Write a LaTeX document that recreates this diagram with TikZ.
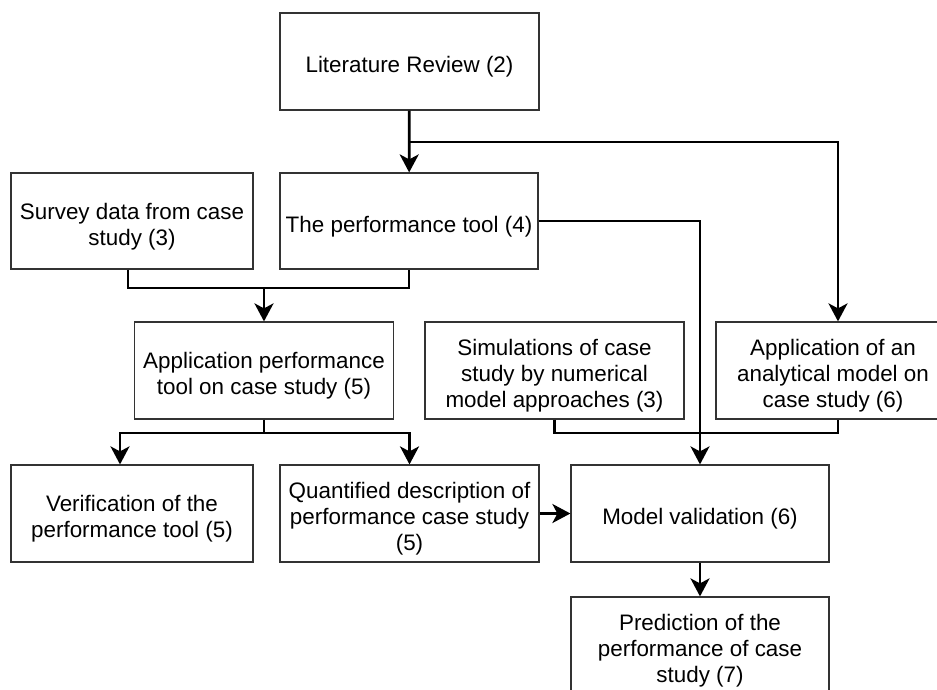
\documentclass[tikz,border=0pt]{standalone}
\usepackage{fontspec}
\setmainfont{Liberation Sans}
\usetikzlibrary{arrows.meta}
\newcommand{\lift}{\rule{0pt}{27pt}}
\begin{document}
\begin{tikzpicture}[x=1pt,y=-1pt,
  box/.style={draw=black!80,line width=1.2pt,inner sep=0pt,align=center,
    font=\fontsize{22.4}{26}\selectfont},
  link/.style={line width=2.7pt,line join=miter},
  arrow/.style={link,-{Stealth[length=18pt,width=19pt,inset=5pt]}}]
\useasboundingbox (0,0) rectangle (937,689);
% boxes
\node[box,minimum width=259pt,minimum height=97pt] (lit) at (409.5,61.5) {\lift Literature Review (2)};
\node[box,minimum width=242pt,minimum height=96pt] (survey) at (132,221) {\lift Survey data from case\\study (3)};
\node[box,minimum width=258pt,minimum height=96pt] (perf) at (409,221) {\lift The performance tool (4)};
\node[box,minimum width=259pt,minimum height=97pt] (appl) at (264,370.5) {\lift Application performance\\tool on case study (5)};
\node[box,minimum width=259pt,minimum height=97pt] (sim) at (554.5,370.5) {\lift Simulations of case\\study by numerical\\model approaches (3)};
\node[box,minimum width=234pt,minimum height=97pt] (analytic) at (833,370.5) {\lift Application of an\\analytical model on\\case study (6)};
\node[box,minimum width=242pt,minimum height=97pt] (verif) at (132,513.5) {\lift Verification of the\\performance tool (5)};
\node[box,minimum width=259pt,minimum height=97pt] (quant) at (409.5,513.5) {\lift Quantified description of\\performance case study\\(5)};
\node[box,minimum width=258pt,minimum height=97pt] (valid) at (700,513.5) {\lift Model validation (6)};
\node[box,minimum width=258pt,minimum height=97pt] (predict) at (700,645.5) {\lift Prediction of the\\performance of case\\study (7)};
% junctions
\coordinate (litsplit) at (409.5,142);
\coordinate (toolmerge) at (264,288);
\coordinate (applsplit) at (264,433);
\coordinate (modelmerge) at (700,433);
% connectors
\draw[arrow] (lit) -- (perf);
\draw[arrow] (litsplit) -| ([xshift=5pt]analytic.north);
\draw[arrow] (perf.east) -| (valid.north);
\draw[link] ([xshift=-4pt]survey.south) |- (toolmerge) -| (perf.south);
\draw[arrow] (toolmerge) -- (appl);
\draw[link] (appl) -- (applsplit);
\draw[arrow] (applsplit) -| ([xshift=-12pt]verif.north);
\draw[arrow] (applsplit) -| (quant.north);
\draw[link] (sim.south) |- (modelmerge) -| ([xshift=5pt]analytic.south);
\draw[arrow] (quant) -- (valid);
\draw[arrow] (valid) -- (predict);
\end{tikzpicture}
\end{document}
